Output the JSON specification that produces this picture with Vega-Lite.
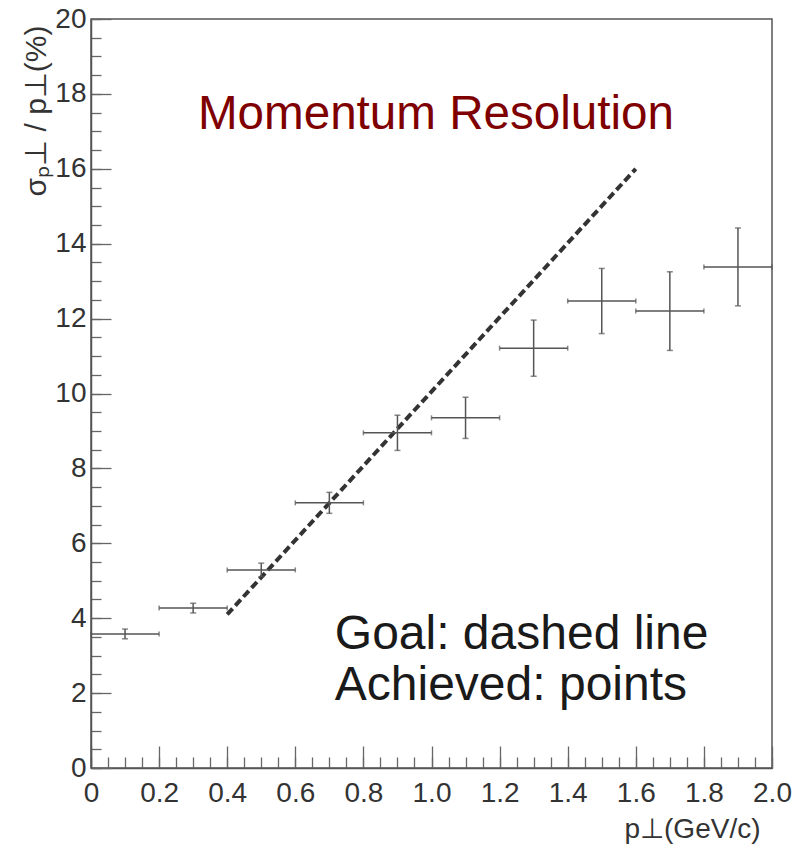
{
  "$schema": "https://vega.github.io/schema/vega-lite/v6.json",
  "width": 681,
  "height": 749,
  "autosize": {"type": "none"},
  "padding": {"left": 91, "top": 19, "right": 34, "bottom": 90},
  "background": "white",
  "config": {
    "view": {"stroke": "#555", "strokeWidth": 1.5},
    "font": "Liberation Sans",
    "axis": {"grid": false, "domainColor": "#555", "domainWidth": 1.5, "tickColor": "#666", "tickWidth": 1.3, "labelColor": "#333", "labelFont": "Liberation Sans", "labelFontSize": 28, "titleFont": "Liberation Sans", "titleFontWeight": "normal", "titleColor": "#333", "titleFontSize": 28}
  },
  "datasets": {
    "points": [
      {"x": 0.1, "xlo": 0.0, "xhi": 0.2, "y": 3.58, "ylo": 3.45, "yhi": 3.71},
      {"x": 0.3, "xlo": 0.2, "xhi": 0.4, "y": 4.27, "ylo": 4.14, "yhi": 4.40},
      {"x": 0.5, "xlo": 0.4, "xhi": 0.6, "y": 5.29, "ylo": 5.11, "yhi": 5.47},
      {"x": 0.7, "xlo": 0.6, "xhi": 0.8, "y": 7.08, "ylo": 6.80, "yhi": 7.36},
      {"x": 0.9, "xlo": 0.8, "xhi": 1.0, "y": 8.95, "ylo": 8.48, "yhi": 9.42},
      {"x": 1.1, "xlo": 1.0, "xhi": 1.2, "y": 9.35, "ylo": 8.80, "yhi": 9.90},
      {"x": 1.3, "xlo": 1.2, "xhi": 1.4, "y": 11.21, "ylo": 10.46, "yhi": 11.96},
      {"x": 1.5, "xlo": 1.4, "xhi": 1.6, "y": 12.47, "ylo": 11.60, "yhi": 13.34},
      {"x": 1.7, "xlo": 1.6, "xhi": 1.8, "y": 12.20, "ylo": 11.15, "yhi": 13.25},
      {"x": 1.9, "xlo": 1.8, "xhi": 2.0, "y": 13.38, "ylo": 12.34, "yhi": 14.42}
    ],
    "goal": [
      {"x": 0.4, "y": 4.1},
      {"x": 1.6, "y": 16.0}
    ],
    "labels": [
      {"label": "Momentum Resolution", "x": 0.314, "y": 17.06, "kind": "title"},
      {"label": "Goal: dashed line", "x": 0.716, "y": 3.18, "kind": "note"},
      {"label": "Achieved: points", "x": 0.716, "y": 1.82, "kind": "note"}
    ]
  },
  "resolve": {"axis": {"x": "independent", "y": "independent"}},
  "layer": [
    {
      "data": {"name": "goal"},
      "mark": {"type": "line", "color": "#333", "strokeWidth": 4, "strokeDash": [8, 4]},
      "encoding": {
        "x": {"field": "x", "type": "quantitative", "scale": {"domain": [0, 2], "nice": false, "zero": false},
              "axis": {"orient": "bottom", "values": [0,0.05,0.1,0.15,0.2,0.25,0.3,0.35,0.4,0.45,0.5,0.55,0.6,0.65,0.7,0.75,0.8,0.85,0.9,0.95,1.0,1.05,1.1,1.15,1.2,1.25,1.3,1.35,1.4,1.45,1.5,1.55,1.6,1.65,1.7,1.75,1.8,1.85,1.9,1.95,2.0], "tickSize": -11, "labels": false, "domain": false, "title": null}},
        "y": {"field": "y", "type": "quantitative", "scale": {"domain": [0, 20], "nice": false},
              "axis": {"orient": "left", "values": [0,0.5,1,1.5,2,2.5,3,3.5,4,4.5,5,5.5,6,6.5,7,7.5,8,8.5,9,9.5,10,10.5,11,11.5,12,12.5,13,13.5,14,14.5,15,15.5,16,16.5,17,17.5,18,18.5,19,19.5,20], "tickSize": -10, "labels": false, "domain": false, "title": null}}
      }
    },
    {
      "data": {"name": "points"},
      "mark": {"type": "rule", "color": "#555", "strokeWidth": 1.5},
      "encoding": {
        "x": {"field": "xlo", "type": "quantitative",
              "axis": {"orient": "bottom", "values": [0,0.2,0.4,0.6,0.8,1.0,1.2,1.4,1.6,1.8,2.0], "tickSize": -22, "labelPadding": 33, "labelExpr": "datum.value == 0 ? '0' : format(datum.value, '.1f')", "labelFlush": false, "labelOverlap": false,
                       "title": "p⊥(GeV/c)", "titleAnchor": "end", "titleAlign": "right", "titleX": 669, "titleY": 69, "titleBaseline": "alphabetic"}},
        "x2": {"field": "xhi"},
        "y": {"field": "y", "type": "quantitative",
              "axis": {"orient": "left", "values": [0,2,4,6,8,10,12,14,16,18,20], "tickSize": -20, "labelPadding": 25, "labelFontSize": 28, "labelFlush": false, "labelOverlap": false,
                       "title": "σₚ⊥ / p⊥(%)", "titleFontSize": 30, "titleAngle": -90, "titleAlign": "right", "titleAnchor": "end", "titleX": -46, "titleY": 6, "titleBaseline": "alphabetic"}}
      }
    },
    {
      "data": {"name": "points"},
      "mark": {"type": "rule", "color": "#555", "strokeWidth": 1.5},
      "encoding": {
        "x": {"field": "x", "type": "quantitative", "axis": null},
        "y": {"field": "ylo", "type": "quantitative", "axis": null},
        "y2": {"field": "yhi"}
      }
    },
    {
      "data": {"name": "points"},
      "mark": {"type": "tick", "orient": "vertical", "color": "#555", "size": 5, "thickness": 1.5},
      "encoding": {
        "x": {"field": "xlo", "type": "quantitative", "axis": null},
        "y": {"field": "y", "type": "quantitative", "axis": null}
      }
    },
    {
      "data": {"name": "points"},
      "mark": {"type": "tick", "orient": "vertical", "color": "#555", "size": 5, "thickness": 1.5},
      "encoding": {
        "x": {"field": "xhi", "type": "quantitative", "axis": null},
        "y": {"field": "y", "type": "quantitative", "axis": null}
      }
    },
    {
      "data": {"name": "points"},
      "mark": {"type": "tick", "orient": "horizontal", "color": "#555", "size": 6, "thickness": 1.5},
      "encoding": {
        "x": {"field": "x", "type": "quantitative", "axis": null},
        "y": {"field": "ylo", "type": "quantitative", "axis": null}
      }
    },
    {
      "data": {"name": "points"},
      "mark": {"type": "tick", "orient": "horizontal", "color": "#555", "size": 6, "thickness": 1.5},
      "encoding": {
        "x": {"field": "x", "type": "quantitative", "axis": null},
        "y": {"field": "yhi", "type": "quantitative", "axis": null}
      }
    },
    {
      "data": {"name": "labels"},
      "mark": {"type": "text", "font": "Liberation Sans", "fontSize": 46, "align": "left", "baseline": "alphabetic"},
      "encoding": {
        "x": {"field": "x", "type": "quantitative", "axis": null},
        "y": {"field": "y", "type": "quantitative", "axis": null},
        "text": {"field": "label"},
        "size": {"field": "kind", "type": "nominal", "scale": {"domain": ["title", "note"], "range": [47.6, 48]}, "legend": null},
        "color": {"field": "kind", "type": "nominal", "scale": {"domain": ["title", "note"], "range": ["#7f0000", "#1a1a1a"]}, "legend": null}
      }
    }
  ]
}
